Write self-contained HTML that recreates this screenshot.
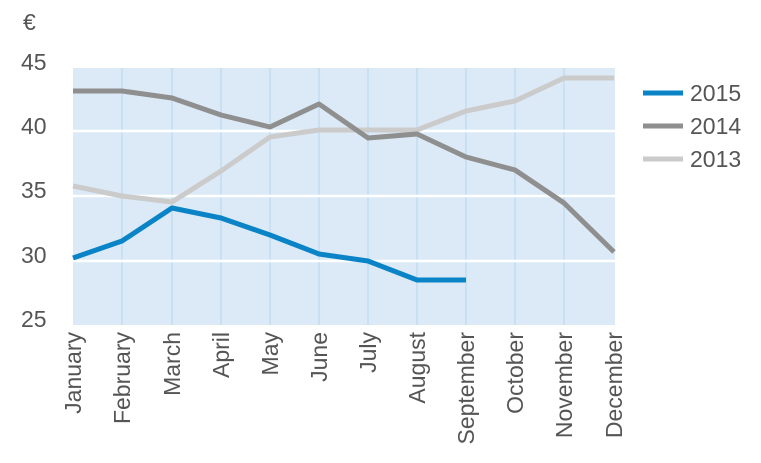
<!DOCTYPE html>
<html><head><meta charset="utf-8"><style>
html,body{margin:0;padding:0;background:#fff;}
svg{display:block;}
text{font-family:"Liberation Sans",sans-serif;fill:#555;}
</style></head><body>
<svg width="761" height="463" viewBox="0 0 761 463">
<rect x="73" y="68" width="542" height="257" fill="#dbeaf6"/>
<g stroke="#c2dcf1" stroke-width="1.5">
<line x1="122" y1="68" x2="122" y2="325"/><line x1="172" y1="68" x2="172" y2="325"/>
<line x1="221" y1="68" x2="221" y2="325"/><line x1="270" y1="68" x2="270" y2="325"/>
<line x1="319" y1="68" x2="319" y2="325"/><line x1="368" y1="68" x2="368" y2="325"/>
<line x1="417" y1="68" x2="417" y2="325"/><line x1="466" y1="68" x2="466" y2="325"/>
<line x1="515" y1="68" x2="515" y2="325"/><line x1="564" y1="68" x2="564" y2="325"/>
</g>
<g stroke="#fff" stroke-width="2.5">
<line x1="73" y1="131" x2="615" y2="131"/><line x1="73" y1="196" x2="615" y2="196"/><line x1="73" y1="261" x2="615" y2="261"/>
</g>
<g font-size="23">
<text x="23" y="30">€</text>
<text x="21" y="70">45</text><text x="21" y="134">40</text><text x="21" y="198">35</text><text x="21" y="263">30</text><text x="21" y="327">25</text>
</g>
<g fill="none" stroke-width="5" stroke-linejoin="round">
<polyline stroke="#cbcbcb" points="73,186 122,196 172,202 221,171 270,137 319,130 368,130 417,130 466,111 515,101 564,78 614,78"/>
<polyline stroke="#8f8f8f" points="73,91 122,91 172,98 221,115 270,127 319,104 368,138 417,134 466,157 515,170 564,203 614,252"/>
<polyline stroke="#0a84c6" points="73,258 122,241 172,208 221,218 270,235 319,254 368,261 417,280 466,280"/>
</g>
<g font-size="23">
<line x1="643" y1="93" x2="683" y2="93" stroke="#0a84c6" stroke-width="5"/><text x="690" y="101">2015</text>
<line x1="643" y1="126" x2="683" y2="126" stroke="#8f8f8f" stroke-width="5"/><text x="690" y="134">2014</text>
<line x1="643" y1="159" x2="683" y2="159" stroke="#cbcbcb" stroke-width="5"/><text x="690" y="167">2013</text>
</g>
<g font-size="23" text-anchor="end">
<text transform="translate(81,332) rotate(-90)">January</text>
<text transform="translate(130,332) rotate(-90)">February</text>
<text transform="translate(180,332) rotate(-90)">March</text>
<text transform="translate(229,332) rotate(-90)">April</text>
<text transform="translate(278,332) rotate(-90)">May</text>
<text transform="translate(327,332) rotate(-90)">June</text>
<text transform="translate(376,332) rotate(-90)">July</text>
<text transform="translate(425,332) rotate(-90)">August</text>
<text transform="translate(474,332) rotate(-90)">September</text>
<text transform="translate(523,332) rotate(-90)">October</text>
<text transform="translate(572,332) rotate(-90)">November</text>
<text transform="translate(622,332) rotate(-90)">December</text>
</g>
</svg>
</body></html>
